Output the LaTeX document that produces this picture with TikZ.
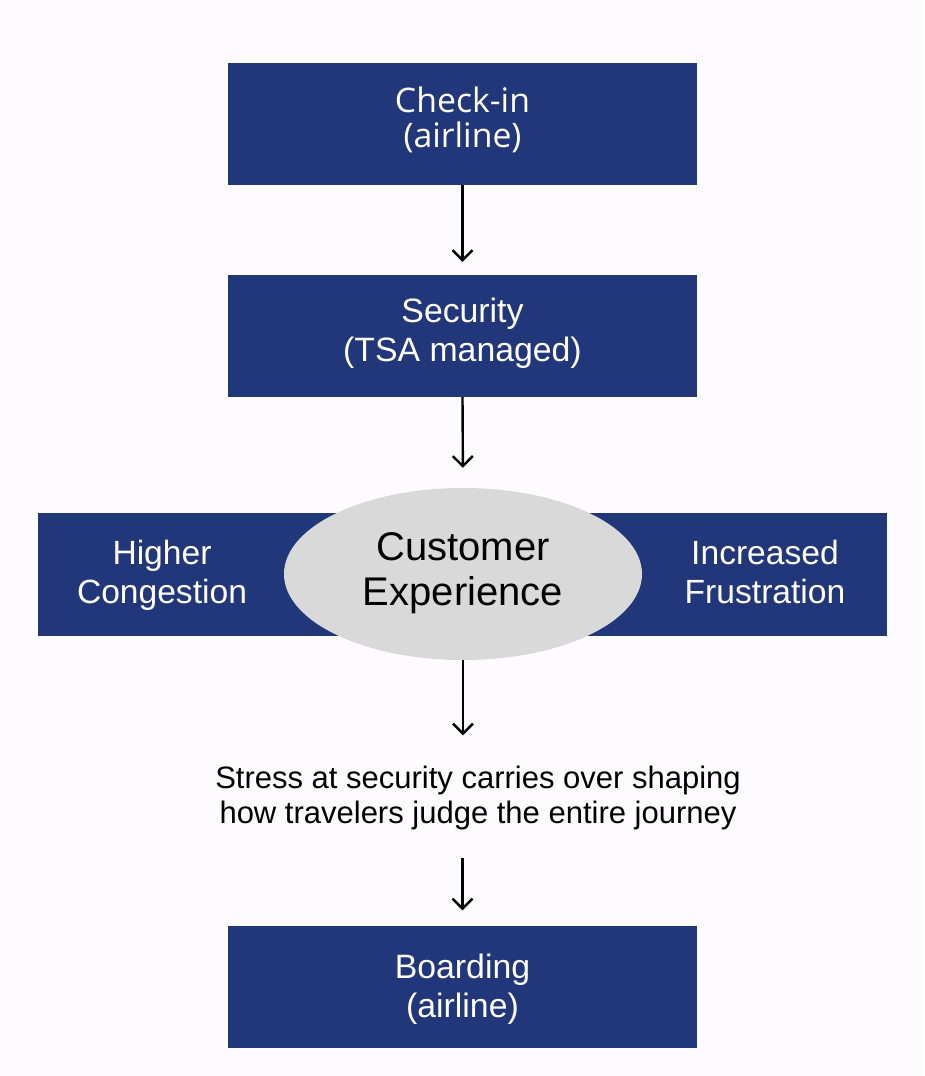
\documentclass[tikz,border=0pt]{standalone}
\usepackage{fontspec}
\setmainfont{Liberation Sans}
\newfontfamily\opensans{Open Sans}
\usetikzlibrary{shapes.geometric,arrows.meta}
\definecolor{navy}{RGB}{34,54,122}
\definecolor{ellgray}{RGB}{217,217,217}
\definecolor{bgc}{RGB}{253,251,253}
\newcommand{\stacklines}[2]{\vtop{\halign{\hfil##\hfil\cr #1\cr #2\cr}}}
\tikzset{
  navybox/.style={fill=navy, minimum width=469pt, minimum height=122pt, inner sep=0pt},
  boxtext/.style={text=white, anchor=base, inner sep=0pt, font=\fontsize{33.8}{39.5}\selectfont},
  flow/.style={-{Straight Barb[length=10pt,width=20pt]}, line width=2.4pt, black},
}
\begin{document}
\begin{tikzpicture}[x=1pt,y=-1pt]
\fill[bgc] (0,0) rectangle (924,1076);
\useasboundingbox (0,0) rectangle (924,1076);
% boxes
\node[navybox] (checkin) at (462.5,124) {};
\node[navybox] (security) at (462.5,336) {};
\node[fill=navy, minimum width=849pt, minimum height=123pt, inner sep=0pt] (band) at (462.5,574.5) {};
\node[ellipse, fill=ellgray, minimum width=358pt, minimum height=172pt, inner sep=0pt] (cx) at (463,574) {};
\node[navybox] (boarding) at (462.5,986.5) {};
% texts
\node[boxtext, font=\opensans\fontsize{33.8}{35}\selectfont] (checkintext) at (462.5,112) {\stacklines{Check-in}{(airline)}};
\node[boxtext] (securitytext) at (462.5,322) {\stacklines{Security}{(TSA managed)}};
\node[boxtext, font=\fontsize{33.6}{39}\selectfont] (cong) at (162,564) {\stacklines{Higher}{Congestion}};
\node[boxtext, font=\fontsize{33.6}{39}\selectfont] (frus) at (765,564) {\stacklines{Increased}{Frustration}};
\node[anchor=base, inner sep=0pt, font=\fontsize{40}{45}\selectfont] (cxtext) at (463,560) {\stacklines{Customer}{Experience}};
\node[anchor=base, inner sep=0pt, font=\fontsize{31}{35}\selectfont] (stress) at (478,788) {\stacklines{Stress at security carries over shaping}{how travelers judge the entire journey}};
\node[boxtext] (boardingtext) at (462.5,978) {\stacklines{Boarding}{(airline)}};
% connectors
\draw[flow, shorten >=13pt] (checkin.south) -- (security.north);
\draw[flow, shorten >=20pt] (security.south) -- (cx.north);
\draw[flow, shorten >=30pt] (cx.south) -- (cx.south |- stress.north);
\draw[flow, shorten <=28pt, shorten >=15pt] (stress.south -| boarding.north) -- (boarding.north);
\end{tikzpicture}
\end{document}
